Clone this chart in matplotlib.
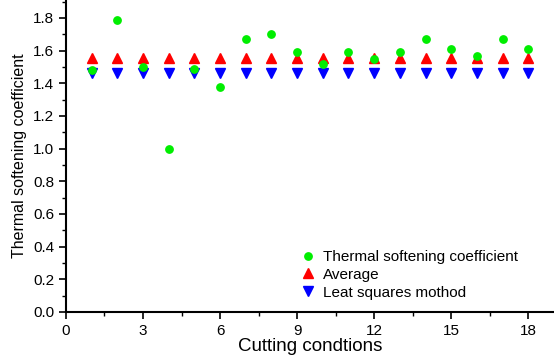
import matplotlib.pyplot as plt
from matplotlib.ticker import MultipleLocator

plt.rcParams["font.family"] = ["Liberation Sans", "DejaVu Sans"]

conditions = list(range(1, 19))
thermal_coef = [1.48, 1.79, 1.50, 1.00, 1.49, 1.38, 1.67, 1.70, 1.59,
                1.52, 1.59, 1.55, 1.59, 1.67, 1.61, 1.57, 1.67, 1.61]
average = [1.555] * 18
least_squares = [1.464] * 18

fig = plt.figure(figsize=(5.54, 3.56), dpi=100)
ax = fig.add_axes([0.119, 0.124, 0.881, 0.876])

ax.plot(conditions, thermal_coef, "o", color="#00ee00", markersize=5.3,
        label="Thermal softening coefficient", zorder=3)
ax.plot(conditions, average, "^", color="#ff0000", markersize=7.5,
        label="Average", zorder=2)
ax.plot(conditions, least_squares, "v", color="#0000ff", markersize=7.5,
        label="Leat squares mothod", zorder=2)

ax.set_xlim(0, 19)
ax.set_ylim(0, 1.91)
ax.xaxis.set_major_locator(MultipleLocator(3))
ax.xaxis.set_minor_locator(MultipleLocator(1.5))
ax.yaxis.set_major_locator(MultipleLocator(0.2))
ax.yaxis.set_minor_locator(MultipleLocator(0.1))
ax.yaxis.set_major_formatter(plt.FormatStrFormatter("%.1f"))
ax.tick_params(which="major", length=5, width=1.2, labelsize=11)
ax.tick_params(which="minor", length=3, width=1.0)
for side in ("top", "right"):
    ax.spines[side].set_visible(False)
for side in ("left", "bottom"):
    ax.spines[side].set_linewidth(1.5)

ax.set_xlabel("Cutting condtions", fontsize=13.5, labelpad=0)
ax.set_ylabel("Thermal softening coefficient", fontsize=11.5, labelpad=4)
ax.legend(loc="lower right", bbox_to_anchor=(0.955, -0.005), frameon=False,
          fontsize=11, handletextpad=0.5, labelspacing=0.25, handlelength=1.0)

fig.savefig("out.png", dpi=100)
